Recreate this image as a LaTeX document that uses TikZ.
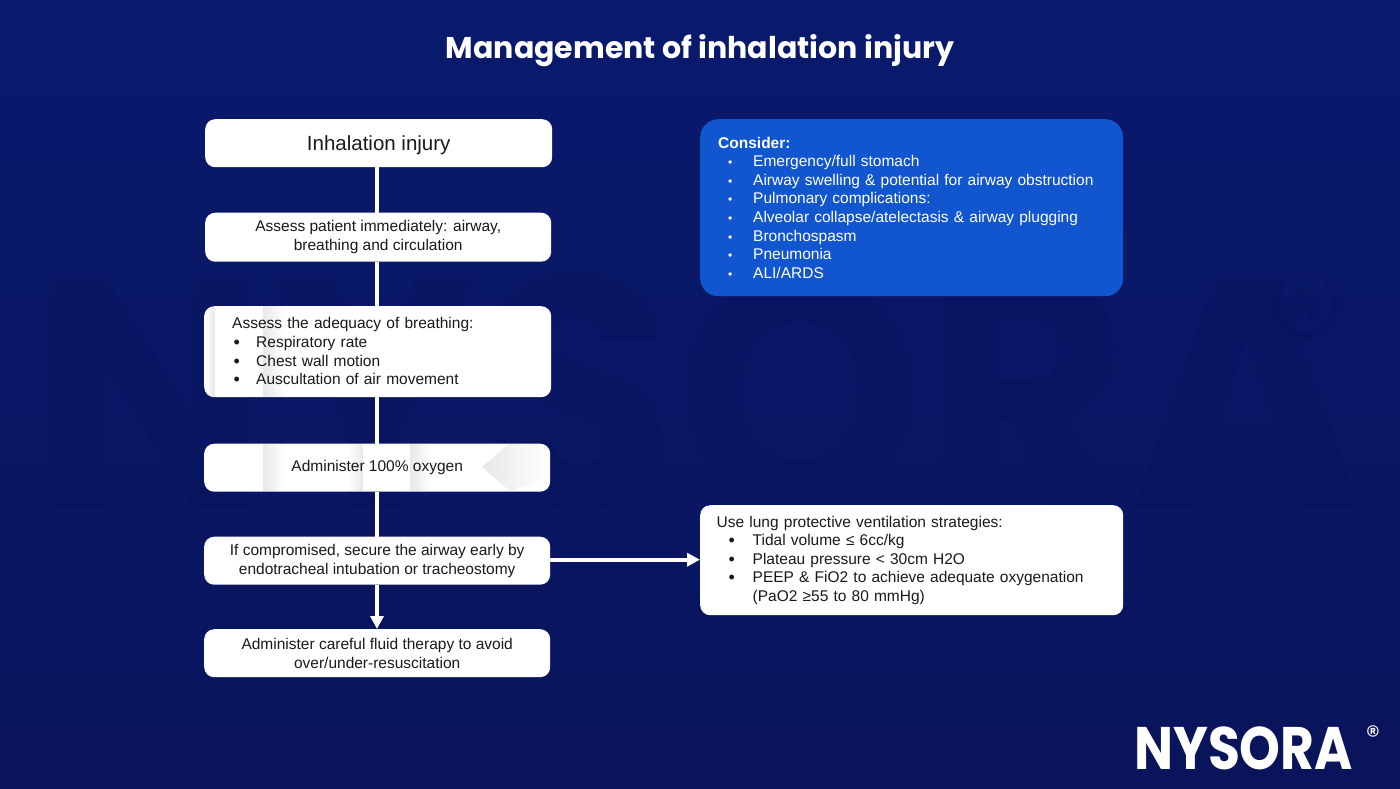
\documentclass[tikz,border=0pt]{standalone}
\usepackage{fontspec}
\setmainfont{Liberation Sans}
\newfontfamily\titlefont{Poppins}
\usetikzlibrary{arrows.meta,calc,fadings}
\definecolor{bgtop}{RGB}{9,25,108}
\definecolor{bgmid}{RGB}{10,23,102}
\definecolor{bgbot}{RGB}{9,20,90}
\definecolor{wmark}{RGB}{5,12,66}
\definecolor{bluebox}{RGB}{17,86,207}
\definecolor{inktext}{RGB}{25,25,30}
\tikzset{
  x=1pt,y=-1pt,
  card/.style={draw=none,fill=white,rounded corners=10pt,anchor=north west,inner xsep=0pt,inner ysep=0pt,
    text=inktext,font=\fontsize{15.5}{18.6}\selectfont},
  cardcentre/.style={card,align=center},
  link/.style={draw=white,line width=4pt},
  linkarrow/.style={link,-{Triangle[length=13pt,width=13pt]}},
  watermark/.style={anchor=base,inner sep=0pt,font=\titlefont\fontsize{333}{333}\selectfont\bfseries,text=wmark,text opacity=.13},
  watermarkreg/.style={inner sep=0pt,font=\titlefont\fontsize{170}{170}\selectfont,text=wmark,text opacity=.13},
  sheen/.style={fill=black,fill opacity=.09,draw=none},
}
\newcommand{\bul}{\makebox[24pt][l]{\hspace{1.5pt}\raisebox{-1pt}{\fontsize{18}{18}\selectfont •}}}
\newcommand{\rbul}{\makebox[36pt][l]{\hspace{12pt}\raisebox{-1pt}{\fontsize{18}{18}\selectfont •}}}
\newcommand{\wbul}{\makebox[35pt][l]{\hspace{10pt}\fontsize{12}{12}\selectfont •}}
\begin{document}
\begin{tikzpicture}
\useasboundingbox (0,0) rectangle (1400,788);
\shade[top color=bgtop,bottom color=bgbot,middle color=bgmid] (0,0) rectangle (1400,788);
\node[watermark] (wm) at (697,508) {\scalebox{.95}[1]{NYSORA}};
\node[watermarkreg] (wmr) at (1306,330) {®};
\node[text=white,font=\titlefont\fontsize{30}{32}\selectfont\bfseries] (title) at (700,51) {Management of inhalation injury};
\coordinate (spine) at (377,0);
\node[cardcentre,minimum width=347pt,minimum height=48pt,font=\fontsize{20.5}{24}\selectfont] (a) at (205,119) {\raisebox{-2pt}[.73em][.2em]{Inhalation injury}};
\node[cardcentre,minimum width=346pt,minimum height=49pt,yshift=-.5pt] (b) at (205,212) {Assess patient immediately: airway,\\breathing and circulation};
\node[card,minimum width=347pt,minimum height=91pt,align=left,text width=347pt] (c) at (204,306) {\hspace*{28pt}Assess the adequacy of breathing:\\\hspace*{28pt}\bul Respiratory rate\\\hspace*{28pt}\bul Chest wall motion\\\hspace*{28pt}\bul Auscultation of air movement};
\node[cardcentre,minimum width=346pt,minimum height=48pt,yshift=-.5pt] (d) at (204,443) {Administer 100\% oxygen};
\node[cardcentre,minimum width=346pt,minimum height=48pt,yshift=-.5pt] (e) at (204,536) {If compromised, secure the airway early by\\endotracheal intubation or tracheostomy};
\node[cardcentre,minimum width=346pt,minimum height=48pt] (f) at (204,629) {Administer careful fluid therapy to avoid\\over/under-resuscitation};
\node[card,fill=bluebox,rounded corners=18pt,minimum width=423pt,minimum height=177pt,text=white,align=left,text width=423pt] (g) at (700,119) {\hspace*{18pt}\textbf{Consider:}\\\hspace*{18pt}\wbul Emergency/full stomach\\\hspace*{18pt}\wbul Airway swelling \& potential for airway obstruction\\\hspace*{18pt}\wbul Pulmonary complications:\\\hspace*{18pt}\wbul Alveolar collapse/atelectasis \& airway plugging\\\hspace*{18pt}\wbul Bronchospasm\\\hspace*{18pt}\wbul Pneumonia\\\hspace*{18pt}\wbul ALI/ARDS};
\node[card,minimum width=423pt,minimum height=110pt,align=left,text width=423pt] (h) at (700,505) {\hspace*{16.5pt}Use lung protective ventilation strategies:\\\hspace*{16.5pt}\rbul Tidal volume ≤ 6cc/kg\\\hspace*{16.5pt}\rbul Plateau pressure < 30cm H2O\\\hspace*{16.5pt}\rbul PEEP \& FiO2 to achieve adequate oxygenation\\\hspace*{52.5pt}(PaO2 ≥55 to 80 mmHg)};
\begin{scope}
\clip[rounded corners=10pt] (c.north west) rectangle (c.south east) (d.north west) rectangle (d.south east);
\fill[sheen,path fading=west] (204,306) rectangle (215,397);
\fill[sheen,path fading=east] (263,306) rectangle (285,397);
\fill[sheen,path fading=east] (263,443) rectangle (285,491);
\fill[sheen,path fading=west] (348,443) rectangle (363,491);
\fill[sheen,path fading=east] (410,443) rectangle (432,491);
\fill[sheen,path fading=east] (482,467) -- (510,443) -- (550,443) -- (550,478) -- (510,491) -- cycle;
\end{scope}
\draw[link] (a.south-|spine) -- (b.north-|spine);
\draw[link] (b.south-|spine) -- (c.north-|spine);
\draw[link] (c.south-|spine) -- (d.north-|spine);
\draw[link] (d.south-|spine) -- (e.north-|spine);
\draw[linkarrow] (e.south-|spine) -- (f.north-|spine);
\draw[linkarrow] ([yshift=1pt]e.east) -- ([yshift=1pt]h.west|-e.east);
\node[anchor=base east,inner sep=0pt,text=white,font=\titlefont\fontsize{60}{60}\selectfont\bfseries] (logo) at (1353,769) {\scalebox{.865}[1]{NYSORA}};
\node[text=white,inner sep=0pt,font=\titlefont\fontsize{28}{28}\selectfont] (reg) at (1373,736) {®};
\end{tikzpicture}
\end{document}
